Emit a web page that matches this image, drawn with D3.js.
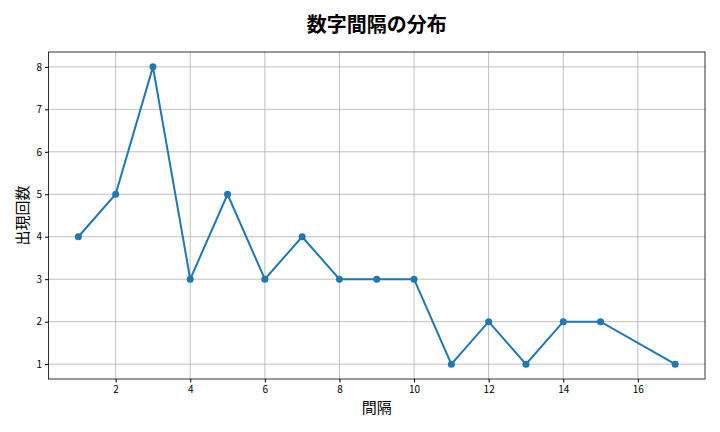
<!DOCTYPE html>
<html><head><meta charset="utf-8">
<script src="https://cdn.jsdelivr.net/npm/d3@7"></script>
<style>body{margin:0;background:#fff}</style>
</head><body><div id="graph"></div>
<script>
const w = 720, h = 432;
const intervals = [1,2,3,4,5,6,7,8,9,10,11,12,13,14,15,17];
const counts    = [4,5,8,3,5,3,4,3,3,3,1,2,1,2,2,1];
const xTicks = [2,4,6,8,10,12,14,16];
const yTicks = [1,2,3,4,5,6,7,8];
const font = "'Noto Sans CJK JP', 'DejaVu Sans', sans-serif";
const m = {left: 48.5, right: 705, top: 52, bottom: 379};

const svg = d3.select('#graph').append('svg').attr('width', w).attr('height', h);

const x = d3.scaleLinear().domain([0.2, 17.8]).range([m.left, m.right]);
const y = d3.scaleLinear().domain([0.65, 8.35]).range([m.bottom, m.top]);

// grid
svg.append('g').selectAll('line').data(xTicks).enter().append('line')
  .attr('x1', d => x(d)).attr('x2', d => x(d)).attr('y1', m.top).attr('y2', m.bottom)
  .attr('stroke', '#b0b0b0').attr('stroke-width', 0.8);
svg.append('g').selectAll('line').data(yTicks).enter().append('line')
  .attr('y1', d => y(d)).attr('y2', d => y(d)).attr('x1', m.left).attr('x2', m.right)
  .attr('stroke', '#b0b0b0').attr('stroke-width', 0.8);

const xAxis = svg.append('g').attr('transform', `translate(0,${m.bottom})`)
  .call(d3.axisBottom(x).tickValues(xTicks).tickSize(3.5).tickPadding(3));
const yAxis = svg.append('g').attr('transform', `translate(${m.left},0)`)
  .call(d3.axisLeft(y).tickValues(yTicks).tickSize(3.5).tickPadding(3));
[xAxis, yAxis].forEach(a => {
  a.select('.domain').remove();
  a.selectAll('text').style('font-family', font).style('font-size', '10px').attr('fill', '#000');
  a.selectAll('line').attr('stroke', '#000');
});

svg.append('rect').attr('x', m.left).attr('y', m.top)
  .attr('width', m.right - m.left).attr('height', m.bottom - m.top)
  .attr('fill', 'none').attr('stroke', '#000').attr('stroke-width', 0.8);

const data = intervals.map((d, i) => ({x: d, y: counts[i]}));
svg.append('path').datum(data)
  .attr('d', d3.line().x(d => x(d.x)).y(d => y(d.y)))
  .attr('fill', 'none').attr('stroke', '#1f77b4').attr('stroke-width', 2);
svg.selectAll('circle').data(data).enter().append('circle')
  .attr('cx', d => x(d.x)).attr('cy', d => y(d.y)).attr('r', 3.5).attr('fill', '#1f77b4');

svg.append('text').attr('x', (m.left + m.right) / 2).attr('y', 32).attr('text-anchor', 'middle')
  .style('font-family', font).style('font-size', '20px').style('font-weight', 'bold').text('数字間隔の分布');
svg.append('text').attr('x', (m.left + m.right) / 2).attr('y', 413).attr('text-anchor', 'middle')
  .style('font-family', font).style('font-size', '15px').text('間隔');
svg.append('text').attr('transform', `translate(28,${(m.top + m.bottom) / 2}) rotate(-90)`)
  .attr('text-anchor', 'middle')
  .style('font-family', font).style('font-size', '15px').text('出現回数');
</script></body></html>
